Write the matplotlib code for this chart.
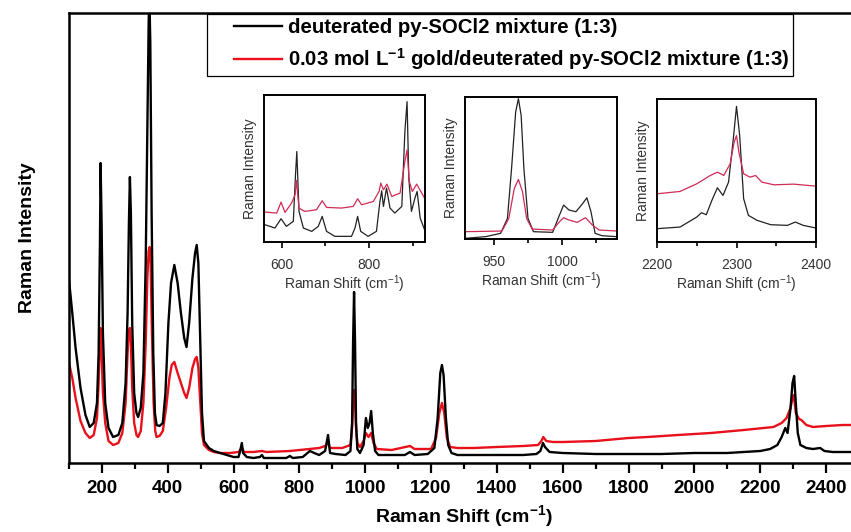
"""Raman spectra of deuterated py-SOCl2 mixture, with and without gold, plus zoomed insets."""
import matplotlib
matplotlib.use("Agg")
import matplotlib.pyplot as plt
from matplotlib.lines import Line2D
from matplotlib.legend_handler import HandlerLine2D
from matplotlib.ticker import MultipleLocator, FixedLocator

plt.rcParams["font.family"] = ["Liberation Sans", "DejaVu Sans"]
plt.rcParams["mathtext.fontset"] = "custom"
plt.rcParams["mathtext.rm"] = "Liberation Sans"
plt.rcParams["mathtext.bf"] = "Liberation Sans:bold"

OUTPUT_PATH = "out.png"

# main spectrum: Raman shift (cm-1) vs intensity (a.u.)
main_shift = [100, 110, 120, 135, 150, 163, 175, 185, 190, 194, 196, 199, 203, 210,
              220, 234, 250, 262, 272, 278, 282, 285, 288, 292, 298, 305, 310, 318,
              326, 333, 338, 342, 344, 347, 351, 356, 361, 366, 375, 385, 393, 402,
              410, 420, 430, 440, 450, 457, 465, 475, 483, 488, 493, 499, 504, 510,
              525, 540, 559, 580, 600, 615, 620, 625, 629, 640, 660, 680, 686, 692,
              720, 760, 771, 780, 810, 832, 845, 860, 878, 887, 893, 910, 940, 955,
              960, 963, 966, 969, 972, 976, 984, 995, 1002, 1008, 1013, 1018, 1023,
              1030, 1040, 1080, 1120, 1136, 1150, 1190, 1210, 1220, 1228, 1233, 1238,
              1245, 1252, 1262, 1280, 1330, 1400, 1480, 1520, 1532, 1540, 1546, 1560,
              1600, 1700, 1800, 1900, 2000, 2100, 2150, 2200, 2230, 2252, 2265, 2276,
              2283, 2292, 2298, 2303, 2308, 2314, 2322, 2340, 2360, 2382, 2395, 2420,
              2500]
main_pure = [183, 150, 115, 75, 48, 36, 40, 60, 110, 220, 300, 240, 130, 60,
             35, 26, 28, 40, 80, 150, 240, 286, 250, 140, 70, 50, 46, 55,
             90, 200, 330, 440, 470, 420, 250, 110, 50, 38, 37, 40, 70, 140,
             180, 198, 180, 150, 125, 116, 140, 185, 210, 218, 200, 120, 50, 22,
             15, 12, 10, 8, 6, 6, 12, 20, 10, 6, 5, 6, 8, 5,
             5, 5, 7, 5, 6, 12, 10, 8, 12, 28, 10, 9, 8, 12,
             40, 120, 171, 120, 40, 14, 10, 18, 45, 35, 40, 52, 30,
             12, 8, 8, 8, 11, 8, 9, 15, 45, 90, 98, 88,
             45, 18, 10, 8, 8, 8, 8, 9, 12, 20, 16, 11,
             10, 9, 9, 9, 10, 10, 11, 12, 14, 18, 26, 35,
             30, 55, 80, 87, 60, 30, 18, 15, 14, 15, 12, 11,
             11]

gold_shift = [100, 110, 120, 135, 150, 163, 175, 185, 190, 194, 196, 199, 203, 210,
              220, 234, 250, 262, 272, 278, 282, 285, 288, 292, 298, 305, 310, 318,
              326, 333, 338, 342, 345, 348, 352, 357, 362, 366, 375, 385, 395, 405,
              412, 420, 430, 440, 450, 457, 465, 475, 483, 488, 493, 499, 504, 510,
              525, 540, 559, 590, 615, 625, 632, 660, 686, 700, 771, 800, 832, 860,
              878, 887, 893, 930, 955, 960, 963, 966, 969, 972, 976, 984, 995, 1002,
              1010, 1018, 1025, 1035, 1080, 1136, 1150, 1200, 1215, 1225, 1233, 1240,
              1248, 1258, 1280, 1330, 1400, 1480, 1525, 1535, 1541, 1550, 1570, 1600,
              1700, 1800, 1857, 1950, 2050, 2150, 2240, 2265, 2280, 2292, 2298, 2302,
              2308, 2318, 2325, 2340, 2360, 2400, 2450, 2500]
main_gold = [100, 85, 65, 42, 30, 25, 28, 45, 80, 125, 135, 110, 70, 40,
             22, 18, 20, 30, 60, 110, 132, 135, 120, 75, 40, 28, 26, 32,
             60, 120, 185, 212, 216, 200, 130, 60, 32, 26, 27, 32, 55, 85,
             98, 101, 90, 80, 70, 65, 75, 95, 104, 106, 95, 60, 30, 18,
             13, 11, 10, 10, 11, 15, 11, 11, 12, 11, 12, 13, 14, 15,
             17, 20, 15, 15, 18, 35, 60, 73, 60, 35, 20, 16, 22, 30,
             26, 30, 20, 14, 13, 17, 14, 14, 25, 50, 60, 50,
             25, 16, 15, 15, 16, 17, 18, 22, 26, 22, 21, 21,
             22, 25, 26, 28, 30, 33, 36, 40, 45, 55, 65, 68,
             50, 44, 43, 38, 36, 37, 38, 38]

# inset 1: 560-925 cm-1
in1_shift = [562, 585, 599, 611, 627, 632, 635, 640, 650, 669, 684, 693, 703, 722,
             760, 768, 774, 781, 798, 817, 825, 829, 833, 840, 848, 859, 875, 882,
             887, 891, 897, 905, 910, 917, 927]
in1_pure = [52, 42, 70, 47, 62, 202, 272, 92, 42, 32, 47, 77, 32, 17,
            17, 42, 77, 32, 17, 32, 122, 154, 107, 162, 102, 87, 107, 332,
            422, 192, 92, 132, 152, 72, 37]
in1_gold_shift = [562, 589, 599, 608, 623, 631, 634, 640, 653, 680, 693, 703, 737,
                  764, 774, 783, 810, 823, 827, 833, 841, 852, 871, 882, 887, 892,
                  899, 909, 927]
in1_gold = [90, 87, 120, 89, 117, 142, 185, 102, 92, 97, 124, 104, 102,
            107, 130, 112, 122, 152, 177, 157, 174, 137, 147, 242, 277, 182,
            152, 174, 132]

# inset 2: 929-1040 cm-1
in2_shift = [929, 944, 955, 960, 963, 966, 968, 970, 972, 975, 979, 993, 998, 1001,
             1005, 1010, 1015, 1018, 1021, 1024, 1029, 1040]
in2_pure = [2, 7, 17, 62, 212, 382, 422, 372, 212, 62, 22, 20, 72, 102,
            87, 82, 107, 124, 82, 17, 10, 7]
in2_gold_shift = [929, 956, 961, 965, 968, 971, 974, 978, 993, 998, 1001, 1005, 1011,
                  1017, 1022, 1027, 1040]
in2_gold = [22, 24, 62, 152, 179, 142, 62, 30, 27, 52, 64, 57, 50,
            64, 42, 27, 24]

# inset 3: 2200-2400 cm-1
in3_shift = [2200, 2229, 2250, 2256, 2262, 2269, 2276, 2283, 2290, 2296, 2300, 2304,
             2309, 2315, 2326, 2343, 2364, 2374, 2384, 2400]
in3_pure = [40, 45, 75, 88, 82, 125, 163, 140, 180, 310, 408, 320,
            130, 80, 65, 52, 50, 60, 50, 42]
in3_gold_shift = [2200, 2229, 2250, 2267, 2276, 2284, 2292, 2297, 2300, 2303, 2309,
                  2317, 2324, 2332, 2347, 2372, 2400]
in3_gold = [145, 152, 175, 200, 210, 200, 235, 300, 320, 270, 205,
            195, 200, 180, 172, 174, 168]

LABEL_PURE = "deuterated py-SOCl2 mixture (1:3)"
LABEL_GOLD = r"0.03 mol L$^{\mathbf{-1}}$ gold/deuterated py-SOCl2 mixture (1:3)"

INSETS = [
    # (rect in figure fraction, xlim, major ticks, minor ticks, ylim, data)
    ([264 / 851, 290 / 532, 161 / 851, 147 / 532], (560, 928), [600, 800], [700, 900],
     (0, 442), (in1_shift, in1_pure, in1_gold_shift, in1_gold)),
    ([465 / 851, 293 / 532, 152 / 851, 142 / 532], (929, 1040), [950, 1000], [975, 1025],
     (0, 427), (in2_shift, in2_pure, in2_gold_shift, in2_gold)),
    ([657 / 851, 290 / 532, 159 / 851, 143 / 532], (2200, 2400), [2200, 2300, 2400],
     [2250, 2350], (0, 430), (in3_shift, in3_pure, in3_gold_shift, in3_gold)),
]


def build():
    fig = plt.figure(figsize=(8.51, 5.32), dpi=100)
    ax = fig.add_axes([69 / 851, 69 / 532, 790 / 851, 450 / 532])

    ax.plot(main_shift, main_pure, color="black", linewidth=1.7, label=LABEL_PURE, zorder=3)
    ax.plot(gold_shift, main_gold, color="#e8101a", linewidth=1.7, label=LABEL_GOLD, zorder=2)

    ax.set_xlim(100, 2500)
    ax.set_ylim(0, 450)
    ax.xaxis.set_major_locator(MultipleLocator(200))
    ax.xaxis.set_minor_locator(MultipleLocator(100))
    ax.set_yticks([])
    ax.tick_params(axis="x", which="major", direction="out", length=7, width=1.6,
                   labelsize=13.5, pad=5)
    ax.tick_params(axis="x", which="minor", direction="out", length=4, width=1.6)
    for lab in ax.get_xticklabels():
        lab.set_fontweight("bold")
    for side in ("left", "bottom", "top", "right"):
        ax.spines[side].set_linewidth(1.8)

    ax.set_xlabel(r"Raman Shift (cm$^{\mathbf{-1}}$)", fontsize=14, fontweight="bold",
                  labelpad=5)
    ax.set_ylabel("Raman Intensity", fontsize=14, fontweight="bold", labelpad=24)

    # legend sits against the top spine, with a gap before each line sample
    leg = ax.legend(loc="upper left", bbox_to_anchor=(207 / 851, 1 - 14 / 532),
                    bbox_transform=fig.transFigure, borderaxespad=0,
                    prop={"weight": "bold", "size": 14.7}, frameon=True, fancybox=False,
                    edgecolor="black", handlelength=3.45, handletextpad=0.3,
                    labelspacing=0.45, borderpad=0.2,
                    handler_map={Line2D: HandlerLine2D(xpad=1.1)})
    leg.get_frame().set_linewidth(0.9)
    leg.get_frame().set_alpha(1)

    for rect, xlim, major, minor, ylim, (xp, yp, xg, yg) in INSETS:
        ins = fig.add_axes(rect)
        ins.plot(xp, yp, color="#222222", linewidth=0.9)
        ins.plot(xg, yg, color="#d02b55", linewidth=0.9)
        ins.set_xlim(*xlim)
        ins.set_ylim(*ylim)
        ins.xaxis.set_major_locator(FixedLocator(major))
        ins.xaxis.set_minor_locator(FixedLocator(minor))
        ins.set_yticks([])
        ins.tick_params(axis="x", which="major", direction="out", length=4.5, width=1.2,
                        labelsize=10, labelcolor="#333333", pad=7)
        ins.tick_params(axis="x", which="minor", direction="out", length=3, width=1.2)
        for side in ins.spines.values():
            side.set_linewidth(1.4)
        ins.set_xlabel(r"Raman Shift (cm$^{-1}$)", fontsize=10, color="#333333", labelpad=1)
        ins.set_ylabel("Raman Intensity", fontsize=10, color="#333333", labelpad=5)

    fig.savefig(OUTPUT_PATH, dpi=100)
    plt.close(fig)
    print(f"Saved: {OUTPUT_PATH}")


if __name__ == "__main__":
    build()
